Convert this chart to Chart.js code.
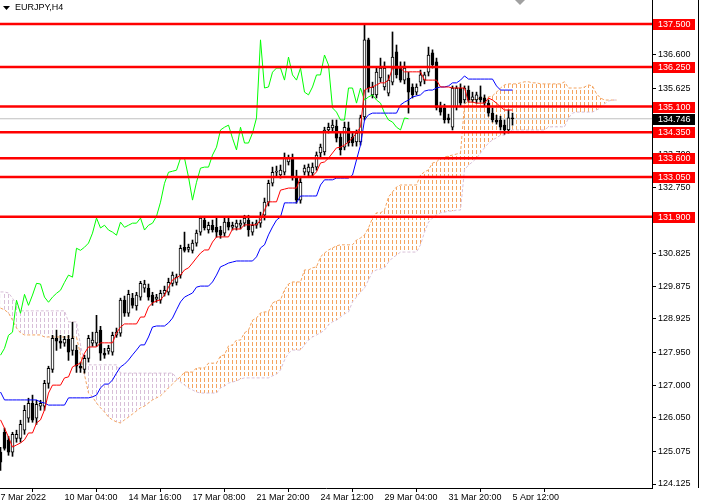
<!DOCTYPE html>
<html>
<head>
<meta charset="utf-8">
<script src="https://cdn.jsdelivr.net/npm/chart.js@4.4.1/dist/chart.umd.min.js"></script>
<style>
html, body { margin: 0; padding: 0; background: #fff; overflow: hidden; }
canvas { display: block; }
</style>
</head>
<body>
<canvas id="chart" width="701" height="500"></canvas>
<script>
// EURJPY H4, bars numbered from the left edge of the window
const timeLabels = ['7 Mar 2022', '10 Mar 04:00', '14 Mar 16:00', '17 Mar 08:00', '21 Mar 20:00',
    '24 Mar 12:00', '29 Mar 04:00', '31 Mar 20:00', '5 Apr 12:00'];
const timeTickBars = [0, 16, 32, 48, 64, 80, 96, 112, 128];

const opens = [
    125.05,125.63,125.40,125.05,125.45,125.45,125.69,126.04,126.47,126.04,
    126.39,126.39,127.05,127.46,128.36,128.28,128.22,128.33,128.01,128.01,
    127.55,127.46,127.78,128.22,128.22,128.60,127.93,127.99,127.96,128.45,
    128.51,129.47,129.09,129.53,129.30,129.56,129.82,129.82,129.62,129.50,
    129.47,129.67,129.70,129.96,129.99,130.20,131.01,130.95,130.92,131.13,
    131.45,131.80,131.51,131.65,131.59,131.51,131.42,131.74,131.59,131.59,
    131.65,131.71,131.80,131.45,131.65,131.71,131.94,132.32,132.87,133.19,
    133.11,133.19,133.49,133.60,133.05,132.38,133.19,133.19,133.17,133.34,
    133.75,133.78,134.42,134.48,134.53,134.21,133.92,134.48,134.21,134.07,
    134.07,134.80,137.04,135.44,135.44,135.93,135.67,135.49,135.81,136.69,
    136.22,135.87,135.93,135.67,135.52,135.81,135.87,136.10,136.66,136.40,
    135.09,135.06,134.77,134.50,135.09,135.64,135.29,135.58,135.29,135.29,
    135.38,135.35,135.20,134.91,134.71,134.71,134.56,134.42,134.77];
const highs = [
    125.19,125.75,125.51,125.63,125.69,125.98,126.41,126.62,126.71,126.56,
    126.56,127.14,127.55,128.45,128.60,128.45,128.42,128.45,128.83,128.16,
    127.67,127.87,128.45,128.54,129.03,128.71,128.07,128.16,128.54,128.66,
    129.53,129.59,129.76,129.67,129.70,130.02,130.05,129.94,129.70,129.64,
    129.76,129.88,130.11,130.29,130.23,131.07,131.45,131.10,131.22,131.51,
    131.91,131.91,131.74,131.80,131.86,131.62,131.86,131.86,131.74,131.80,
    131.80,131.94,131.94,131.74,131.80,132.03,132.44,132.96,133.34,133.37,
    133.40,133.75,133.69,133.72,133.25,133.02,133.40,133.43,133.46,133.78,
    134.01,134.50,134.62,134.71,134.71,134.33,134.65,134.65,134.36,134.42,
    134.85,137.47,137.09,135.81,136.22,136.51,136.40,136.02,137.27,136.89,
    136.40,136.40,136.10,135.76,135.76,136.16,136.10,136.83,136.75,136.51,
    135.23,135.17,134.88,135.70,135.70,135.76,135.70,135.70,135.52,135.52,
    135.70,135.44,135.29,135.06,134.85,134.82,134.71,135.00,134.91];
const lows = [
    124.52,125.11,124.96,124.93,125.34,125.34,125.57,125.92,125.92,125.86,
    126.27,126.27,126.91,127.37,128.01,128.07,128.13,127.72,127.87,127.37,
    127.37,127.35,127.67,128.13,128.13,127.72,127.78,127.90,127.87,128.39,
    128.42,129.00,129.00,129.24,129.18,129.47,129.70,129.47,129.32,129.41,
    129.38,129.59,129.62,129.88,129.91,130.11,130.87,130.87,130.84,131.04,
    131.36,131.51,131.42,131.45,131.30,131.27,131.33,131.51,131.51,131.51,
    131.54,131.62,131.33,131.36,131.56,131.59,131.80,132.21,132.79,133.08,
    133.02,133.11,133.40,132.96,132.29,132.29,133.11,133.08,133.08,133.25,
    133.63,133.69,134.33,134.39,134.07,133.69,133.84,133.95,133.95,133.95,
    133.98,134.71,135.52,135.35,135.35,135.81,135.58,135.41,135.73,135.93,
    135.81,135.76,134.91,135.35,135.44,135.70,135.76,135.99,136.22,135.00,
    134.85,134.62,134.62,134.42,135.00,135.12,135.20,135.23,135.23,135.20,
    135.23,135.12,134.82,134.65,134.59,134.42,134.30,134.33,134.56];
const closes = [
    124.76,125.16,125.05,125.57,125.57,125.86,126.27,126.47,125.98,126.44,
    126.47,127.05,127.49,128.36,128.28,128.22,128.33,127.96,128.36,127.55,
    127.49,127.78,128.36,128.31,128.54,127.93,127.87,128.07,128.45,128.54,
    129.47,129.09,129.64,129.32,129.62,129.96,129.94,129.56,129.41,129.56,
    129.67,129.76,129.99,130.20,130.14,130.98,130.92,131.01,131.13,131.42,
    131.86,131.57,131.65,131.51,131.45,131.36,131.74,131.59,131.65,131.71,
    131.71,131.86,131.51,131.65,131.71,131.91,132.32,132.87,133.19,133.22,
    133.25,133.60,133.60,133.05,132.38,132.90,133.31,133.34,133.34,133.69,
    133.92,134.42,134.50,134.56,134.18,133.84,134.50,134.04,134.04,134.33,
    134.77,137.04,135.64,135.67,136.10,136.22,136.22,135.87,136.54,136.02,
    135.87,136.22,135.52,135.44,135.67,136.02,136.02,136.60,136.31,135.06,
    134.94,134.71,134.71,135.64,135.64,135.20,135.64,135.29,135.38,135.44,
    135.29,135.20,134.91,134.71,134.65,134.50,134.42,134.77,134.746];

// Ichimoku lines
const tenkan = [
    125.99,125.75,125.49,125.20,125.26,125.32,125.41,125.61,125.61,125.90,
    125.99,126.28,126.77,127.00,127.00,127.00,127.21,127.24,127.53,127.59,
    127.64,127.93,128.11,128.11,128.11,128.23,128.23,128.23,128.23,128.52,
    128.69,128.78,128.78,128.78,128.78,128.98,128.98,129.27,129.39,129.45,
    129.48,129.62,129.85,130.06,130.12,130.20,130.35,130.41,130.55,130.70,
    130.84,130.93,130.93,131.16,131.31,131.31,131.31,131.31,131.54,131.54,
    131.54,131.66,131.66,131.66,131.66,131.80,132.09,132.33,132.33,132.33,
    132.67,132.70,132.73,132.73,132.73,133.05,133.05,133.08,133.08,133.20,
    133.46,133.49,133.60,133.75,133.90,133.92,133.98,134.07,134.19,134.33,
    134.51,135.58,135.64,135.67,135.73,135.79,135.79,135.87,136.22,136.22,
    136.22,136.11,136.11,136.11,136.11,136.11,135.87,135.87,135.87,135.87,
    135.67,135.67,135.67,135.64,135.64,135.64,135.64,135.23,135.23,135.20,
    135.20,135.20,135.35,135.29,135.20,135.09,135.00,135.00,135.00];
const kijun = [
    126.80,126.57,126.57,126.57,126.57,126.57,126.57,126.57,126.57,126.57,
    126.51,126.48,126.42,126.42,126.42,126.42,126.42,126.63,126.63,126.63,
    126.63,126.63,126.63,126.66,126.71,126.92,127.03,127.03,127.15,127.35,
    127.53,127.61,127.73,127.88,128.02,128.17,128.17,128.40,128.69,128.72,
    128.72,128.72,128.81,128.95,129.19,129.42,129.56,129.62,129.68,129.85,
    129.88,129.88,129.88,130.00,130.20,130.44,130.49,130.55,130.58,130.61,
    130.61,130.61,130.61,130.61,130.73,130.99,131.08,131.37,131.60,131.80,
    131.89,132.30,132.30,132.30,132.30,132.50,132.50,132.50,132.50,132.50,
    132.82,132.97,132.97,132.97,133.02,133.02,133.02,133.02,133.11,133.55,
    133.98,134.71,134.86,134.91,134.91,134.91,134.91,134.91,134.91,134.91,
    135.15,135.23,135.29,135.38,135.41,135.44,135.55,135.58,135.58,135.64,
    135.67,135.67,135.70,135.79,135.79,135.87,135.99,135.90,135.90,135.90,
    135.90,135.90,135.90,135.90,135.70,135.58,135.58,135.58,135.58];
const spanA = [
    129.24,129.19,129.10,128.89,128.66,128.52,128.46,128.46,128.46,128.46,
    128.46,128.40,128.40,128.40,128.40,128.40,128.40,128.40,128.40,128.40,
    127.88,127.30,126.77,126.66,126.48,126.34,126.22,126.07,125.99,125.93,
    125.90,125.99,126.07,126.16,126.25,126.34,126.39,126.48,126.57,126.63,
    126.69,126.80,126.92,127.03,127.15,127.24,127.38,127.38,127.38,127.50,
    127.50,127.50,127.64,127.64,127.64,127.85,127.88,128.14,128.17,128.31,
    128.31,128.52,128.60,128.89,128.95,129.10,129.13,129.13,129.39,129.45,
    129.48,129.77,129.94,130.00,130.00,130.00,130.35,130.35,130.41,130.44,
    130.73,130.84,130.93,130.99,131.05,131.08,131.08,131.08,131.08,131.22,
    131.28,131.37,131.57,131.86,132.01,132.01,132.09,132.47,132.62,132.76,
    132.82,132.82,132.82,132.82,132.82,133.11,133.20,133.26,133.46,133.49,
    133.60,133.63,133.66,133.69,133.72,133.75,135.15,135.29,135.29,135.32,
    135.35,135.35,135.38,135.41,135.52,135.64,135.73,135.76,135.76,135.76,
    135.79,135.82,135.82,135.79,135.79,135.76,135.76,135.76,135.76,135.76,
    135.76,135.82,135.64,135.64,135.64,135.64,135.67,135.73,135.70,135.47,
    135.35,135.29,135.29,135.29,135.29];
const spanB = [
    129.71,129.71,129.68,129.53,129.33,129.16,129.16,129.16,129.16,129.16,
    129.16,129.16,129.16,129.16,129.16,129.16,129.16,128.84,128.84,128.84,
    128.17,127.64,127.59,127.59,127.59,127.59,127.59,127.59,127.59,127.59,
    127.35,127.35,127.35,127.35,127.35,127.35,127.35,127.35,127.35,127.35,
    127.35,127.35,127.35,127.35,127.21,127.09,127.00,126.92,126.86,126.80,
    126.77,126.77,126.77,126.77,126.77,126.92,126.97,127.06,127.09,127.12,
    127.18,127.21,127.21,127.21,127.21,127.21,127.21,127.21,127.27,127.32,
    127.44,127.73,127.93,128.02,128.02,128.02,128.17,128.31,128.40,128.46,
    128.52,128.60,128.75,128.84,128.89,128.98,129.07,129.13,129.42,129.56,
    129.71,129.82,130.06,130.29,130.35,130.38,130.41,130.58,130.70,130.78,
    130.87,130.87,130.87,130.87,130.87,131.08,131.45,131.74,131.86,131.95,
    132.01,132.03,132.06,132.06,132.09,132.09,133.26,133.40,133.49,133.60,
    133.75,133.90,134.04,134.13,134.19,134.27,134.27,134.36,134.42,134.42,
    134.42,134.42,134.42,134.42,134.42,134.42,134.42,134.51,134.51,134.51,
    134.51,134.51,134.77,134.91,134.94,134.94,134.94,134.94,134.94,135.00,
    135.06,135.18,135.26,135.29,135.29];

// horizontal levels drawn on the chart
const levels = [137.5, 136.25, 135.1, 134.35, 133.6, 133.05, 131.9];
const lastPrice = 134.746;
const priceTicks = [136.6, 135.625, 134.65, 133.7, 132.75, 131.8, 130.825, 129.875,
    128.925, 127.95, 127.0, 126.05, 125.075, 124.125];

const FONT = '9px "Liberation Sans", Arial, sans-serif';
const X_MIN = -0.125, X_MAX = 162.875;   // 4 px per bar
const Y_MIN = 124.009, Y_MAX = 138.199;

// dotted cloud, like the MT4 histogram
function hatch(color) {
    const c = document.createElement('canvas');
    c.width = 4; c.height = 6;
    const g = c.getContext('2d');
    g.fillStyle = color;
    g.fillRect(0, 0, 1, 4);
    return g.createPattern(c, 'repeat');
}
const pts = (arr, start) => arr.map((v, k) => ({ x: start + k, y: v }));
const noPad = s => { s.paddingTop = 0; s.paddingBottom = 0; s.paddingLeft = 0; s.paddingRight = 0; };

const chikou = closes.slice(26);  // lagging span: close plotted 26 bars back
const bodyData = closes.map((c, i) => ({ x: i, y: [Math.min(opens[i], c), Math.max(opens[i], c)] }));
const wickData = closes.map((c, i) => ({ x: i, y: [lows[i], highs[i]] }));
const bodyColors = closes.map((c, i) => c >= opens[i] ? '#ffffff' : '#000000');

const datasets = [];
levels.forEach(v => datasets.push({
    type: 'line', data: [{ x: X_MIN, y: v }, { x: X_MAX, y: v }],
    borderColor: '#ff0000', borderWidth: 2.5, order: 0
}));
datasets.push({ type: 'line', data: pts(tenkan, 0), borderColor: '#ff0000', borderWidth: 1, order: 1 });
datasets.push({ type: 'line', data: pts(kijun, 0), borderColor: '#0000ff', borderWidth: 1, order: 1 });
datasets.push({ type: 'line', data: pts(chikou, 0), borderColor: '#00ff00', borderWidth: 1, order: 1 });
datasets.push({
    type: 'bar', data: bodyData, backgroundColor: bodyColors, borderColor: '#000000',
    borderWidth: 1, borderSkipped: false, barThickness: 3, minBarLength: 1, grouped: false, order: 4
});
datasets.push({
    type: 'bar', data: wickData, backgroundColor: '#000000', borderWidth: 0,
    barThickness: 1, grouped: false, order: 5
});
const spanBIndex = datasets.length;
datasets.push({
    type: 'line', data: pts(spanB, 0), borderColor: '#d8bfd8', borderWidth: 1,
    borderDash: [3, 2], order: 6
});
datasets.push({
    type: 'line', data: pts(spanA, 0), borderColor: '#f4a460', borderWidth: 1, borderDash: [3, 2],
    fill: { target: spanBIndex, above: hatch('#f4a460'), below: hatch('#d8bfd8') }, order: 7
});
datasets.push({
    type: 'line', data: [{ x: X_MIN, y: lastPrice }, { x: X_MAX, y: lastPrice }],
    borderColor: '#c0c0c0', borderWidth: 1, order: 9
});

const overlay = {
    id: 'overlay',
    afterDraw(chart) {
        const { ctx, chartArea } = chart;
        const y = chart.scales.y;
        ctx.save();
        ctx.fillStyle = '#000';
        ctx.fillRect(698, 0, 1, chartArea.bottom);
        ctx.font = FONT;
        ctx.textBaseline = 'middle';
        const tag = (v, bg) => {
            const py = Math.round(y.getPixelForValue(v));
            ctx.fillStyle = bg;
            ctx.fillRect(chartArea.right + 1, py - 5, 42, 11);
            ctx.fillStyle = '#ffffff';
            ctx.fillText(v.toFixed(3), chartArea.right + 6, py + 1);
        };
        levels.forEach(v => tag(v, '#ff0000'));
        tag(lastPrice, '#000000');

        // symbol caption
        ctx.fillStyle = '#000';
        ctx.beginPath();
        ctx.moveTo(3, 6); ctx.lineTo(10, 6); ctx.lineTo(6.5, 10); ctx.closePath();
        ctx.fill();
        ctx.fillText('EURJPY,H4', 15, 8);

        // chart shift marker
        ctx.fillStyle = '#a0a0a0';
        ctx.beginPath();
        ctx.moveTo(515, 0); ctx.lineTo(525, 0); ctx.lineTo(520, 5); ctx.closePath();
        ctx.fill();
        ctx.restore();
    }
};

new Chart(document.getElementById('chart'), {
    type: 'line',
    data: { datasets },
    plugins: [overlay],
    options: {
        responsive: false,
        animation: false,
        devicePixelRatio: 1,
        layout: { padding: 0 },
        elements: { point: { radius: 0 }, line: { tension: 0 } },
        plugins: { legend: { display: false }, tooltip: { enabled: false } },
        scales: {
            x: {
                type: 'linear', min: X_MIN, max: X_MAX, offset: false,
                afterBuildTicks: s => { s.ticks = timeTickBars.map(v => ({ value: v })); },
                afterFit: s => { s.height = 12; noPad(s); },
                ticks: {
                    callback: (v, i) => timeLabels[i], align: 'start', autoSkip: false,
                    maxRotation: 0, padding: 0, color: '#000', font: { family: '"Liberation Sans", Arial', size: 9 }
                },
                grid: { display: true, drawOnChartArea: false, tickLength: 4, color: '#000' },
                border: { display: true, color: '#000' }
            },
            y: {
                type: 'linear', position: 'right', min: Y_MIN, max: Y_MAX,
                afterBuildTicks: s => { s.ticks = priceTicks.map(v => ({ value: v })); },
                afterFit: s => { s.width = 49; noPad(s); },
                ticks: {
                    callback: v => v.toFixed(3), autoSkip: false, padding: 2, color: '#000',
                    font: { family: '"Liberation Sans", Arial', size: 9 }
                },
                grid: { display: true, drawOnChartArea: false, tickLength: 4, color: '#000' },
                border: { display: true, color: '#000' }
            }
        }
    }
});
</script>
</body>
</html>
